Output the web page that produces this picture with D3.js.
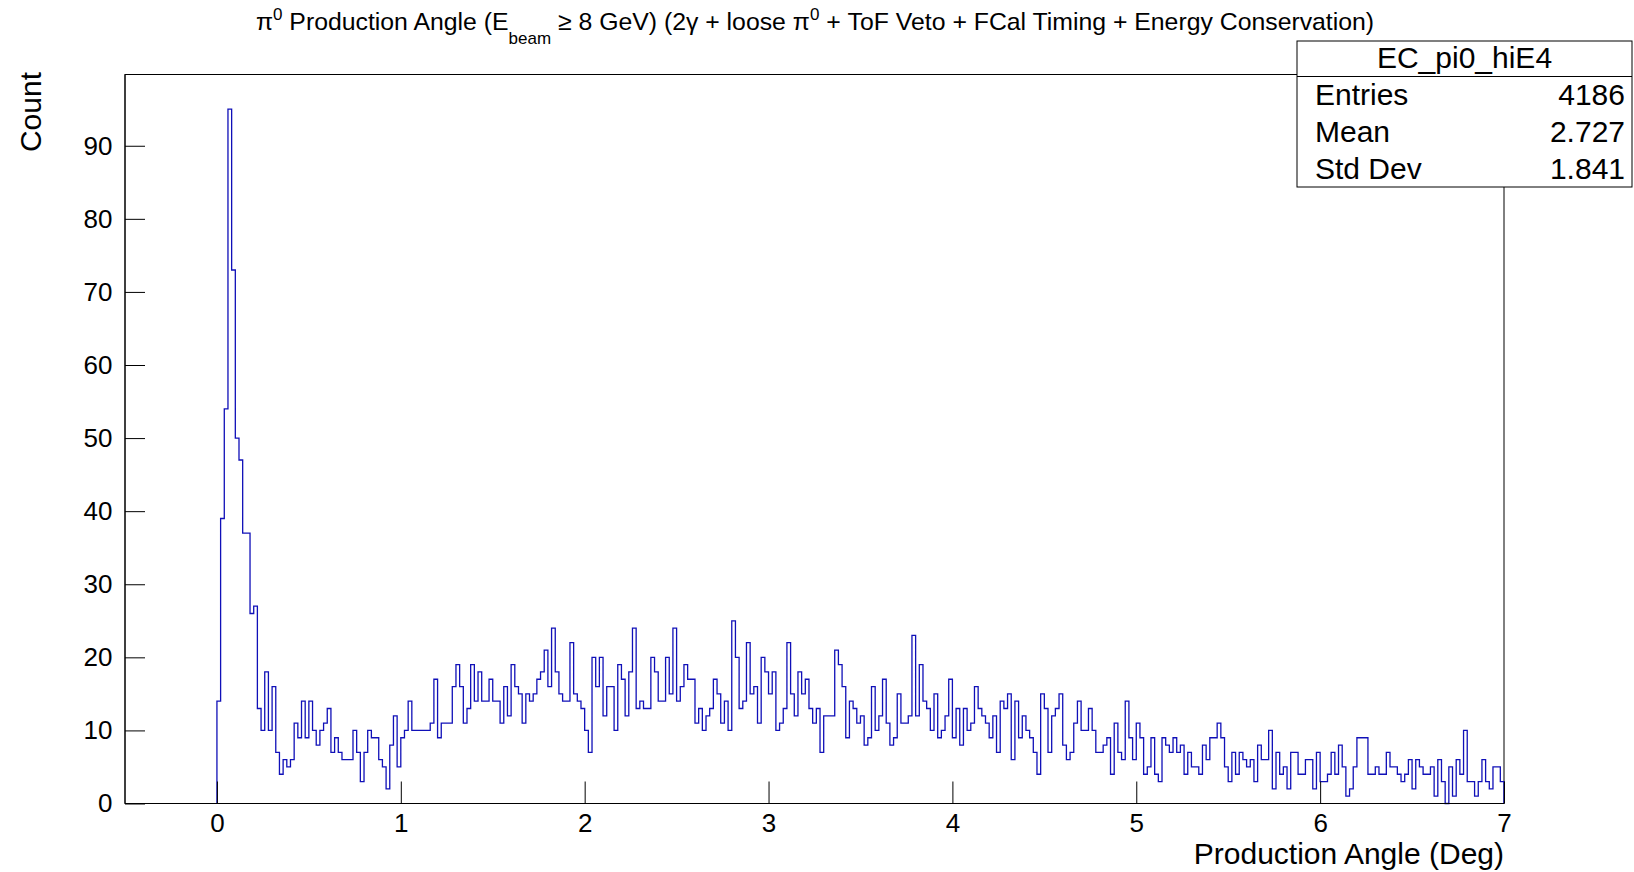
<!DOCTYPE html>
<html><head><meta charset="utf-8">
<script src="https://cdn.jsdelivr.net/npm/d3@7"></script>
<style>
body{margin:0;background:#fff;}
svg{display:block;}
text{font-family:"Liberation Sans", Arial, Helvetica, sans-serif;fill:#000;}
</style>
</head><body>
<svg id="c" width="1634" height="872"></svg>
<script>
// ---- data ----
const binStart = 0;
const binWidth = 0.02;
const counts = [
14,39,54,95,73,50,47,37,37,26, 27,13,10,18,10,16,7,4,6,5,
6,11,9,14,9,14,10,8,10,11, 13,7,9,7,6,6,6,10,7,3,
7,10,9,9,6,5,2,8,12,5, 9,10,14,10,10,10,10,10,11,17,
9,11,11,11,16,19,16,11,13,19, 14,18,14,14,17,14,14,11,16,12,
19,16,15,11,15,14,15,17,18,21, 16,24,18,15,14,14,22,15,14,13,
10,7,20,16,20,12,16,16,10,19, 17,12,18,24,13,14,13,13,20,18,
14,14,20,15,24,14,16,19,17,17, 11,13,10,12,13,17,15,11,14,10,
25,20,13,14,22,15,16,11,20,18, 15,18,10,11,13,22,15,12,18,15,
17,13,11,13,7,12,12,12,21,19, 16,9,14,13,11,12,8,9,16,10,
12,17,11,8,9,15,11,11,12,23, 12,19,14,13,10,15,9,10,12,17,
9,13,8,13,10,11,16,13,12,11, 9,12,7,14,13,15,6,14,9,12,
10,9,7,4,15,13,7,12,13,15, 8,6,7,11,14,10,10,13,10,7,
7,8,9,4,11,7,6,14,9,6, 11,9,4,5,9,4,3,9,8,7,
9,7,8,4,7,5,5,4,8,6, 9,9,11,9,5,3,7,4,7,6,
5,6,3,8,6,6,10,2,7,4, 5,2,7,7,4,4,6,6,2,7,
3,3,4,7,4,8,5,1,2,5, 9,9,9,4,4,5,4,4,7,5,
5,4,3,4,6,2,6,5,4,4, 5,1,6,3,0,5,1,6,4,10,
3,3,1,3,6,3,2,5,5,3
];
const xMajorTicks = [0,1,2,3,4,5,6,7];
const yMajorTicks = [0,10,20,30,40,50,60,70,80,90];
const xDomain = [-0.5, 7];
const yDomain = [0, 99.75];
const titleParts = [
  {t:"\u03c0", k:"n"},{t:"0", k:"sup"},{t:" Production Angle (E", k:"n"},{t:"beam", k:"sub"},
  {t:" \u2265 8 GeV) (2\u03b3 + loose \u03c0", k:"n"},{t:"0", k:"sup"},
  {t:" + ToF Veto + FCal Timing + Energy Conservation)", k:"n"}
];
const xTitle = "Production Angle (Deg)";
const yTitle = "Count";
const statsName = "EC_pi0_hiE4";
const statsLabels = ["Entries","Mean","Std Dev"];
const statsValues = ["4186","2.727","1.841"];

// ---- layout ----
const svg = d3.select("#c");
const L = 125, R = 1504, T = 74.5, B = 803.5;
const x = d3.scaleLinear().domain(xDomain).range([L, R]);
const y = d3.scaleLinear().domain(yDomain).range([B, T]);

// frame
svg.append("rect").attr("x",L).attr("y",T).attr("width",R-L).attr("height",B-T)
  .attr("fill","none").attr("stroke","#000").attr("stroke-width",1);

// histogram outline
const pts = [[binStart,0]];
counts.forEach((c,i)=>{
  const lo = binStart + i*binWidth, hi = lo + binWidth;
  pts.push([lo,c]); pts.push([hi,c]);
});
pts.push([binStart + counts.length*binWidth, 0]);
svg.append("path").datum(pts)
  .attr("d", d3.line().x(d=>x(d[0])).y(d=>y(d[1])))
  .attr("fill","none").attr("stroke","#1010b8").attr("stroke-width",1.3);

// x axis
const xMinor = d3.range(-0.4, 7.0001, 0.2).map(v=>+v.toFixed(2));
const gx = svg.append("g").attr("transform",`translate(0,${B})`);
gx.call(d3.axisBottom(x).tickValues(xMinor).tickSize(-11).tickFormat(""));
gx.call(d3.axisBottom(x).tickValues(xMajorTicks).tickSize(-22).tickFormat(d3.format("d")));
gx.selectAll(".domain").remove();
gx.selectAll("line").attr("stroke","#000");
gx.selectAll("text").attr("y",28.5).attr("dy",null).attr("font-size",26)
  .attr("font-family",'"Liberation Sans", Arial, sans-serif');

// y axis
const yMinor = d3.range(0, 99, 2);
const gy = svg.append("g").attr("transform",`translate(${L},0)`);
gy.call(d3.axisLeft(y).tickValues(yMinor).tickSize(-10).tickFormat(""));
gy.call(d3.axisLeft(y).tickValues(yMajorTicks).tickSize(-20).tickFormat(d3.format("d")));
gy.selectAll(".domain").remove();
gy.selectAll("line").attr("stroke","#000");
gy.selectAll("text").attr("x",-12.5).attr("font-size",26)
  .attr("font-family",'"Liberation Sans", Arial, sans-serif');
svg.append("line").attr("x1",L).attr("x2",L).attr("y1",T).attr("y2",B).attr("stroke","#000");
svg.append("line").attr("x1",L).attr("x2",R).attr("y1",B).attr("y2",B).attr("stroke","#000");

// axis titles
svg.append("text").attr("x",R).attr("y",863.5).attr("text-anchor","end")
  .attr("font-size",30).text(xTitle);
svg.append("text").attr("transform","translate(41,72) rotate(-90)")
  .attr("text-anchor","end").attr("font-size",30).text(yTitle);

// title
const tt = svg.append("text").attr("x",815).attr("y",30).attr("text-anchor","middle")
  .attr("font-size",24.8);
const supDy = 10, subDy = 14;
titleParts.forEach((p,i)=>{
  const s = tt.append("tspan").text(p.t);
  const prev = i>0 ? titleParts[i-1] : null;
  let dy = 0;
  if(prev && prev.k==="sup") dy += supDy;
  if(prev && prev.k==="sub") dy -= subDy;
  if(p.k==="sup"){ dy -= supDy; s.attr("font-size",17); }
  if(p.k==="sub"){ dy += subDy; s.attr("font-size",17); }
  s.attr("dy", dy);
});

// stats box
const sx0 = 1297, sx1 = 1632, sy0 = 41, sy1 = 187, sHead = 76.5;
svg.append("rect").attr("x",sx0).attr("y",sy0).attr("width",sx1-sx0).attr("height",sy1-sy0)
  .attr("fill","#fff").attr("stroke","#000");
svg.append("line").attr("x1",sx0).attr("x2",sx1).attr("y1",sHead).attr("y2",sHead).attr("stroke","#000");
svg.append("text").attr("x",(sx0+sx1)/2).attr("y",68).attr("text-anchor","middle")
  .attr("font-size",30).text(statsName);
const rowY = [105,142,179];
statsLabels.forEach((lab,i)=>{
  svg.append("text").attr("x",1315).attr("y",rowY[i]).attr("font-size",30).text(lab);
  svg.append("text").attr("x",1625).attr("y",rowY[i]).attr("text-anchor","end")
    .attr("font-size",30).text(statsValues[i]);
});
</script>
</body></html>
